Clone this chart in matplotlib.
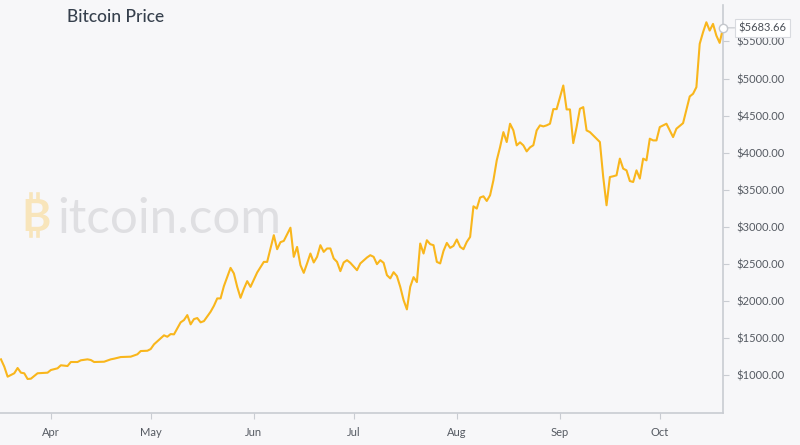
import matplotlib
matplotlib.use("Agg")
import matplotlib.pyplot as plt
import matplotlib.dates as mdates
from matplotlib.lines import Line2D
import pandas as pd

# days after 2017-03-17 and the closing price
days = [0, 1, 2, 4, 5, 6, 7, 8, 9, 11, 14, 15, 17, 18, 20, 21, 23, 24, 26, 27,
        28, 31, 33, 34, 36, 39, 41, 42, 44, 45, 46, 49, 50, 51, 52, 54, 55, 56, 57, 58,
        59, 60, 61, 63, 64, 65, 66, 67, 69, 70, 71, 72, 73, 74, 75, 77, 79, 80, 82, 83,
        84, 85, 87, 88, 89, 90, 91, 92, 93, 94, 95, 96, 97, 98, 99, 100, 101, 102, 103, 104,
        105, 107, 108, 110, 111, 112, 113, 114, 115, 116, 117, 118, 119, 120, 121, 122, 123, 124, 125, 126,
        127, 128, 129, 130, 131, 132, 133, 134, 135, 136, 137, 138, 139, 140, 141, 142, 143, 144, 145, 146,
        147, 148, 149, 150, 151, 152, 153, 154, 155, 156, 157, 158, 159, 160, 161, 162, 163, 164, 165, 166,
        167, 168, 169, 170, 171, 172, 173, 174, 175, 176, 177, 178, 179, 180, 181, 182, 183, 184, 185, 186,
        187, 188, 189, 190, 191, 192, 193, 194, 195, 196, 197, 198, 200, 201, 202, 203, 205, 207, 208, 209,
        210, 211, 212, 213, 214, 215, 216, 217]
prices = [1211, 1112, 977, 1023, 1094, 1031, 1023, 946, 950, 1023, 1031, 1067, 1090, 1131, 1121, 1175, 1175, 1198, 1211, 1202,
          1175, 1179, 1211, 1220, 1242, 1247, 1279, 1323, 1327, 1350, 1414, 1535, 1516, 1552, 1548, 1710, 1741, 1808, 1683, 1754,
          1768, 1710, 1727, 1853, 1933, 2033, 2033, 2199, 2445, 2370, 2189, 2041, 2162, 2266, 2189, 2383, 2526, 2526, 2886, 2697,
          2792, 2809, 2987, 2594, 2728, 2482, 2378, 2505, 2639, 2518, 2594, 2751, 2661, 2707, 2707, 2572, 2526, 2401, 2518, 2549,
          2513, 2414, 2505, 2585, 2616, 2594, 2495, 2549, 2513, 2347, 2303, 2387, 2334, 2189, 2010, 1885, 2189, 2320, 2253, 2774,
          2639, 2818, 2765, 2751, 2526, 2505, 2674, 2782, 2715, 2742, 2828, 2728, 2697, 2796, 2863, 3276, 3245, 3394, 3411, 3348,
          3425, 3627, 3896, 4075, 4277, 4143, 4390, 4300, 4098, 4139, 4098, 4017, 4071, 4100, 4300, 4368, 4354, 4368, 4390, 4587,
          4587, 4749, 4906, 4583, 4583, 4129, 4345, 4592, 4614, 4300, 4277, 4233, 4188, 4143, 3671, 3290, 3671, 3681, 3694, 3919,
          3784, 3761, 3617, 3604, 3761, 3650, 3919, 3896, 4188, 4165, 4165, 4345, 4390, 4300, 4210, 4323, 4398, 4758, 4794, 4883,
          5468, 5624, 5759, 5647, 5737, 5580, 5481, 5683.66]

start = pd.Timestamp("2017-03-17")
dates = start + pd.to_timedelta(days, unit="D")

bg = "#f7f7f9"
gold = "#f9b61c"
grey = "#c9ccd2"
wm_gold = "#f8e5bb"

plt.rcParams["font.family"] = ["Lato", "DejaVu Sans"]

fig = plt.figure(figsize=(8, 4.45), dpi=100, facecolor=bg)
ax = fig.add_axes([0.0, 32 / 445, 723 / 800, 408 / 445], facecolor=bg)

# watermark (drawn first so the line sits over it)
fig.text(21 / 800, 1 - 231 / 445, "B", fontsize=32, color=wm_gold, va="baseline", ha="left",
         fontweight="bold", zorder=0)
for xp in (31, 38):
    for y0, y1 in ((194, 201), (229, 236)):
        fig.add_artist(Line2D([xp / 800, xp / 800], [1 - y0 / 445, 1 - y1 / 445],
                              color=wm_gold, lw=2.6, zorder=0))
fig.text(57 / 800, 1 - 233 / 445, "itcoin.com", fontsize=35.5, color="#dfdfe2", va="baseline", ha="left",
         zorder=0)
ax.set_zorder(1)
ax.patch.set_alpha(0)

ax.plot(dates, prices, color=gold, lw=1.5, zorder=3)

# last value marker + label
ax.plot(dates[-1], prices[-1], "o", ms=6, mfc="white", mec="#c4c7cc", mew=1, zorder=5, clip_on=False)
ax.annotate("$%.2f" % prices[-1], xy=(dates[-1], prices[-1]), xytext=(11, 0),
            textcoords="offset points", va="center", ha="left", fontsize=8, color="#4a4f57",
            bbox=dict(boxstyle="square,pad=0.3", fc="white", ec="#d8dadf", lw=0.8),
            arrowprops=dict(arrowstyle="-", color="#c4c7cc", lw=0.8, shrinkA=0, shrinkB=3),
            zorder=6, annotation_clip=False)

ax.set_xlim(start - pd.Timedelta(hours=7), dates[-1])
ax.set_ylim(487, 5992)

ax.yaxis.tick_right()
ax.set_yticks(range(1000, 6000, 500))
ax.yaxis.set_major_formatter(plt.FuncFormatter(lambda v, p: "$%.2f" % v))
ax.xaxis.set_major_locator(mdates.MonthLocator())
ax.xaxis.set_major_formatter(mdates.DateFormatter("%b"))

for s in ["left", "top"]:
    ax.spines[s].set_visible(False)
for s in ["right", "bottom"]:
    ax.spines[s].set_color(grey)
    ax.spines[s].set_linewidth(1.2)
ax.tick_params(axis="both", length=4, width=0.8, color=grey, labelsize=8, labelcolor="#555a62", pad=6)

fig.text(67 / 800, 1 - 17 / 445, "Bitcoin Price", fontsize=12.5, color="#36404d", va="center", ha="left",
         fontweight="medium")

fig.savefig("out.png", dpi=100, facecolor=bg)
